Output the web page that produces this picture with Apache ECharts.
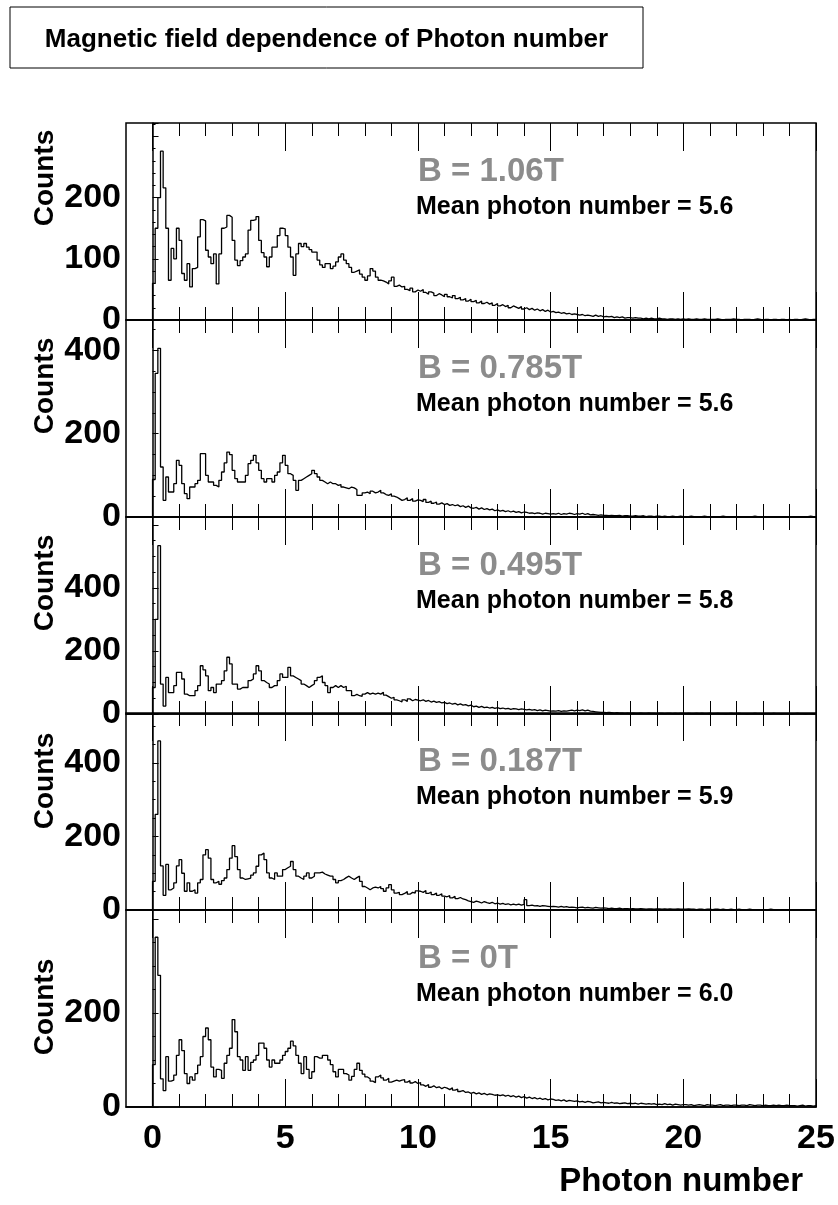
<!DOCTYPE html>
<html><head><meta charset="utf-8">
<script src="https://cdn.jsdelivr.net/npm/echarts@6/dist/echarts.min.js"></script>
<style>html,body{margin:0;padding:0;background:#fff}#c{width:838px;height:1205px}</style>
</head><body><div id="c"></div>
<script>
// ---------------- data ----------------
const chartTitle = 'Magnetic field dependence of Photon number';
const xTitle = 'Photon number';
const yTitle = 'Counts';
const fieldLabels = ['B = 1.06T', 'B = 0.785T', 'B = 0.495T', 'B = 0.187T', 'B = 0T'];
const meanLabels = ['Mean photon number = 5.6', 'Mean photon number = 5.6', 'Mean photon number = 5.8',
                    'Mean photon number = 5.9', 'Mean photon number = 6.0'];
const xTickLabels = [0, 5, 10, 15, 20, 25];
const xMinorTicks = [1,2,3,4,6,7,8,9,11,12,13,14,16,17,18,19,21,22,23,24];
const yMax = [322, 473, 625, 536, 419];
const yInterval = [100, 200, 200, 200, 200];
const yTickLabels = [[0,100,200],[0,200,400],[0,200,400],[0,200,400],[0,200]];
const binWidth = 0.1; // histogram bins start at 0

const counts1 = [60,150,200,276,216,150,65,117,100,150,
130,76,65,92,54,84,86,136,164,162,
114,103,92,108,59,108,150,152,171,168,
130,98,89,97,103,108,147,163,164,169,
130,110,103,87,103,119,119,138,150,149,
138,119,103,73,108,125,120,125,119,115,
111,111,98,90,86,92,92,84,88,95,
103,108,98,92,86,78,80,82,75,70,
65,72,84,80,70,65,64,62,59,64,
70,55,57,54,55,50,48,52,46,49,
47,50,45,42,46,44,40,43,41,38,
42,38,36,40,35,37,33,35,31,34,
30,32,28,31,27,29,26,28,24,27,
23,25,22,24,20,23,21,19,22,18,
20,17,19,16,18,15,17,14,16,13,
14,12,13,11,12,10,11,9,10,9,
8,9,7,8,7,6,8,6,7,5,
6,5,6,4,5,4,5,3,4,4,
3,4,3,3,2,3,2,3,2,2,
3,2,2,1,2,2,1,2,1,2,
1,2,1,1,2,1,1,2,1,1,
1,1,2,1,0,1,1,1,2,1,
1,0,1,1,1,0,1,2,1,0,
1,1,0,1,1,0,1,1,0,1,
0,1,1,0,1,2,1,0,1,1];

const counts2 = [90,345,405,120,40,96,60,60,80,136,
124,80,56,44,72,72,80,88,152,152,
100,84,84,76,72,88,108,130,156,150,
112,92,84,84,84,100,128,136,148,130,
112,92,84,92,92,84,100,108,130,148,
124,104,100,88,64,88,92,96,100,104,
112,104,96,88,84,80,84,80,80,76,
78,72,70,68,72,70,66,52,52,58,
60,56,62,58,60,64,58,54,52,56,
50,48,44,40,42,46,40,44,38,41,
40,37,42,35,38,33,36,31,34,30,
32,28,30,27,29,25,27,23,26,22,
21,23,19,22,18,20,17,19,15,17,
14,16,13,15,12,14,11,13,10,12,
11,9,10,8,10,9,7,9,8,7,
8,7,9,6,8,7,9,8,6,8,
7,9,6,8,5,6,5,4,5,4,
4,3,4,3,3,4,2,3,3,2,
2,3,2,2,3,1,2,2,1,2,
2,1,2,1,1,2,1,1,2,1,
1,1,2,1,0,1,1,2,1,1,
1,0,1,1,2,1,0,1,1,1,
0,1,1,0,1,1,2,1,0,1,
1,0,1,1,0,1,1,0,1,0,
1,1,0,1,1,0,1,2,1,0];

const counts3 = [84,300,534,95,25,116,68,68,90,132,
132,111,63,58,58,58,74,90,153,140,
121,74,84,68,95,95,106,137,180,159,
95,95,79,84,84,84,106,111,127,153,
137,106,100,95,84,90,90,106,127,116,
116,148,121,116,111,106,95,90,84,90,
95,106,116,121,100,90,68,84,90,84,
90,84,88,74,74,58,62,58,56,63,
68,63,66,63,66,63,69,60,55,50,
53,45,42,38,45,40,48,42,46,44,
42,45,40,43,38,41,37,39,35,37,
33,35,31,34,29,32,28,30,26,28,
23,25,21,24,20,22,19,21,18,20,
17,19,16,18,15,17,16,14,16,15,
13,15,12,14,11,13,10,12,11,9,
10,9,11,8,10,9,11,12,10,12,
11,13,10,12,9,8,7,6,5,5,
4,5,4,3,4,3,3,2,3,2,
3,2,2,3,2,2,3,2,2,1,
2,2,1,2,2,1,2,1,2,2,
1,2,1,1,2,1,2,1,1,2,
1,1,2,1,1,0,1,2,1,1,
2,1,1,0,1,1,2,1,1,0,
1,1,0,2,1,1,0,1,1,1,
0,1,2,1,1,0,1,1,0,1];

const counts4 = [78,260,460,120,40,124,55,60,74,120,
137,100,51,74,51,55,46,74,83,150,
164,141,83,74,78,70,80,87,110,141,
175,145,110,87,83,85,87,95,101,119,
150,155,137,101,87,83,101,92,92,110,
115,119,132,110,92,87,83,92,101,87,
92,101,101,103,98,95,92,92,83,74,
80,83,88,92,87,83,88,92,78,64,
60,55,60,62,60,64,58,51,60,69,
55,46,48,42,45,50,43,48,46,52,
51,48,53,45,49,42,46,40,44,38,
36,39,33,37,31,34,30,28,25,23,
21,24,22,19,23,20,18,21,17,19,
16,18,15,17,14,16,14,16,13,15,
28,12,13,11,12,10,12,11,10,9,
10,9,8,10,8,9,7,8,7,6,
7,8,6,7,6,5,7,6,5,6,
5,4,5,4,4,5,3,4,4,3,
4,3,3,4,3,2,3,3,2,3,
3,2,3,2,3,2,2,3,2,2,
2,3,2,2,1,2,2,1,2,2,
1,2,2,1,2,1,1,2,1,1,
2,1,1,1,2,1,1,0,1,1,
1,1,2,1,0,1,1,1,0,1,
1,0,1,1,1,0,1,1,1,0];

const counts5 = [90,361,280,60,35,107,55,57,68,110,
143,120,71,50,64,57,71,89,107,150,
168,143,85,64,80,78,61,93,110,125,
186,160,107,100,78,107,78,95,100,110,
136,136,125,100,85,100,93,93,100,110,
118,125,140,130,110,93,71,107,80,61,
75,107,104,104,110,110,100,90,75,64,
80,80,71,68,57,65,80,93,78,70,
64,60,55,52,64,68,62,57,61,53,
55,57,55,57,58,53,56,51,54,50,
52,47,44,48,42,45,41,43,39,42,
40,37,41,36,38,33,35,31,32,29,
31,28,30,27,29,26,28,27,25,26,
24,26,23,25,22,24,21,23,20,22,
19,21,18,20,17,19,16,18,15,17,
16,14,15,13,15,12,14,13,12,13,
11,12,10,12,11,9,10,11,9,10,
9,8,10,8,9,7,8,9,7,8,
7,8,6,8,7,6,7,6,7,5,
6,5,7,5,6,4,6,5,4,5,
5,4,5,3,4,5,4,3,5,4,
4,3,4,5,3,4,4,3,4,4,
3,4,4,3,5,4,3,4,4,3,
4,3,3,4,3,4,3,3,4,3,
3,3,2,3,4,2,3,3,2,3];

const allCounts = [counts1, counts2, counts3, counts4, counts5];

// ---------------- layout ----------------
const FONT = '"Liberation Sans", Arial, Helvetica, sans-serif';
const LEFT = 126, PLOT_W = 690;
const tops = [123, 320, 517, 713, 910];
const PH = 197;
const XMIN = -1, XMAX = 25;
const countsTitleY = [178, 386, 583, 781, 1007];

function histPoints(arr) {
  const pts = [[XMIN, 0]];
  arr.forEach((v, k) => pts.push([+(k * binWidth).toFixed(2), v]));
  pts.push([XMAX, arr[arr.length - 1]]);
  return pts;
}

const grids = [], xAxes = [], yAxes = [], series = [], graphics = [];

graphics.push({type: 'rect', shape: {x: 10, y: 7, width: 633, height: 61},
  style: {fill: '#fff', stroke: '#000', lineWidth: 1}});
graphics.push({type: 'text', x: 326.5, y: 40,
  style: {text: chartTitle, fontFamily: FONT, fontWeight: 'bold', fontSize: 26, fill: '#000',
          align: 'center', verticalAlign: 'middle'}});
graphics.push({type: 'text', x: 803, y: 1182,
  style: {text: xTitle, fontFamily: FONT, fontWeight: 'bold', fontSize: 33, fill: '#000',
          align: 'right', verticalAlign: 'middle'}});

for (let i = 0; i < 5; i++) {
  grids.push({left: LEFT, width: PLOT_W, top: tops[i], height: PH, show: true,
    borderColor: '#000', borderWidth: 1.5, backgroundColor: 'transparent'});
  const isLast = i === 4;
  const base = {type: 'value', gridIndex: i, min: XMIN, max: XMAX,
    splitLine: {show: false}, axisLine: {show: false, onZero: false}};
  // bottom major
  xAxes.push(Object.assign({}, base, {position: 'bottom',
    axisLine: {show: true, onZero: false, lineStyle: {color: '#000', width: 1.5}},
    axisTick: {show: true, inside: true, length: 28, customValues: xTickLabels, lineStyle: {color: '#000', width: 1}},
    axisLabel: {show: isLast, customValues: xTickLabels, margin: 15, color: '#000',
      fontFamily: FONT, fontWeight: 'bold', fontSize: 34}}));
  // bottom minor
  xAxes.push(Object.assign({}, base, {position: 'bottom',
    axisTick: {show: true, inside: true, length: 13, customValues: xMinorTicks, lineStyle: {color: '#000', width: 1}},
    axisLabel: {show: false}}));
  // top major
  xAxes.push(Object.assign({}, base, {position: 'top',
    axisTick: {show: true, inside: true, length: 28, customValues: xTickLabels, lineStyle: {color: '#000', width: 1}},
    axisLabel: {show: false}}));
  // top minor
  xAxes.push(Object.assign({}, base, {position: 'top',
    axisTick: {show: true, inside: true, length: 13, customValues: xMinorTicks, lineStyle: {color: '#000', width: 1}},
    axisLabel: {show: false}}));

  yAxes.push({type: 'value', gridIndex: i, min: 0, max: yMax[i], interval: yInterval[i],
    splitLine: {show: false},
    axisLine: {show: true, lineStyle: {color: '#000', width: 1.5}},
    axisTick: {show: true, inside: true, length: 6, lineStyle: {color: '#000'}},
    minorTick: {show: true, splitNumber: i === 0 ? 5 : 4, length: 3, lineStyle: {color: '#000'}},
    axisLabel: {customValues: yTickLabels[i], margin: 5, color: '#000',
      fontFamily: FONT, fontWeight: 'bold', fontSize: 34}});

  series.push({type: 'line', xAxisIndex: i * 4, yAxisIndex: i, step: 'end', symbol: 'none',
    silent: true, animation: false, data: histPoints(allCounts[i]),
    lineStyle: {color: '#000', width: 1.3}});

  graphics.push({type: 'text', x: 45, y: countsTitleY[i], rotation: Math.PI / 2,
    style: {text: yTitle, fontFamily: FONT, fontWeight: 'bold', fontSize: 28, fill: '#000',
            align: 'center', verticalAlign: 'middle'}});
  graphics.push({type: 'text', x: 418, y: tops[i] + 49,
    style: {text: fieldLabels[i], fontFamily: FONT, fontWeight: 'bold', fontSize: 33, fill: '#8c8c8c',
            align: 'left', verticalAlign: 'middle'}});
  graphics.push({type: 'text', x: 416, y: tops[i] + 84,
    style: {text: meanLabels[i], fontFamily: FONT, fontWeight: 'bold', fontSize: 25, fill: '#000',
            align: 'left', verticalAlign: 'middle'}});
}

const chart = echarts.init(document.getElementById('c'), null, {renderer: 'canvas'});
chart.setOption({
  backgroundColor: '#fff',
  animation: false,
  grid: grids, xAxis: xAxes, yAxis: yAxes, series: series, graphic: graphics
});
</script>
</body></html>
